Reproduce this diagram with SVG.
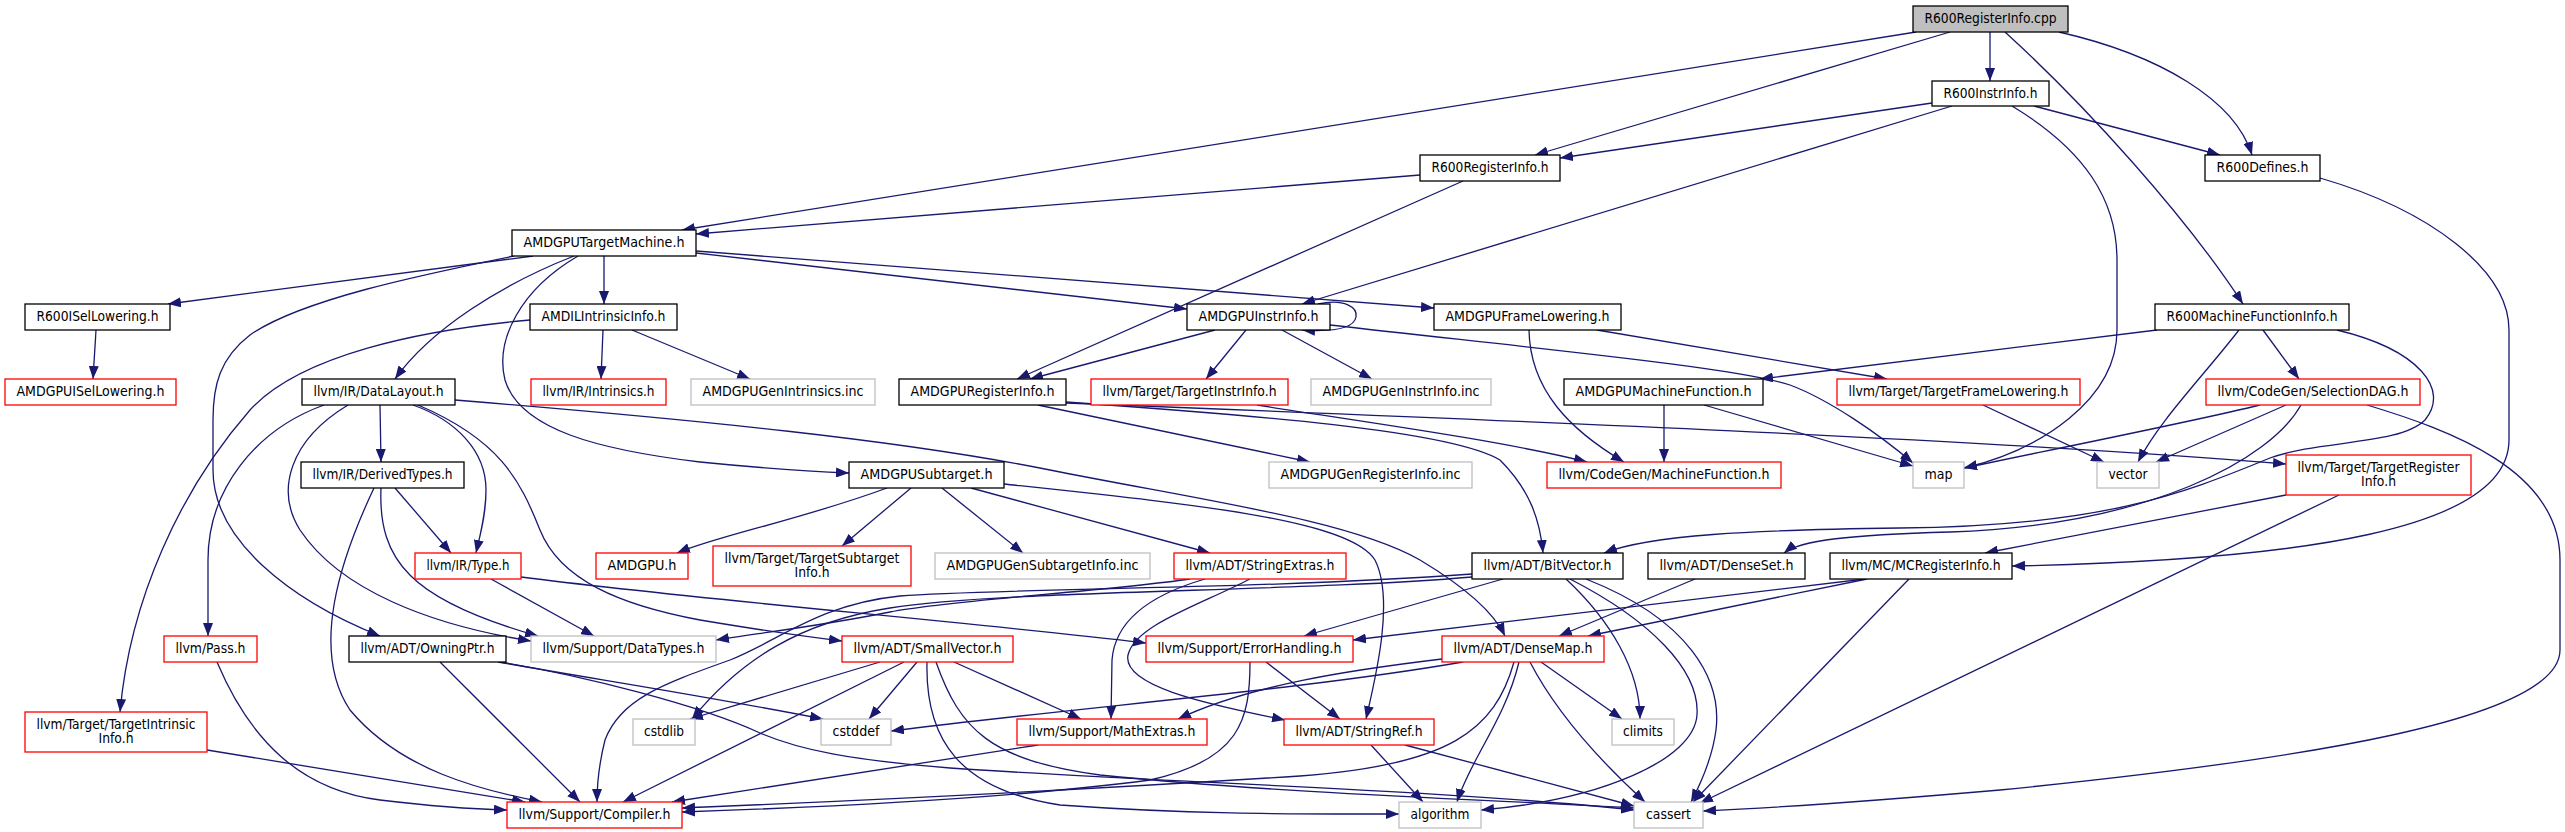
<svg xmlns="http://www.w3.org/2000/svg" width="2565" height="832" viewBox="0 0 2565 832">
<defs>
<marker id="ah" markerUnits="userSpaceOnUse" markerWidth="13" markerHeight="10" refX="13" refY="5" orient="auto" viewBox="0 0 13 10">
<path d="M0,0 L13,5 L0,10 z" fill="#191970"/>
</marker>
<style>
.nd rect{fill:#ffffff;stroke:#000000;stroke-width:1.3}
.nd.red rect{stroke:#ff0000}
.nd.gry rect{stroke:#bfbfbf}
.nd.root rect{fill:#bfbfbf}
.nd text{font-family:'DejaVu Sans','Liberation Sans',sans-serif;font-size:14px;text-anchor:middle;fill:#000000}
#edges path{fill:none;stroke:#191970;stroke-width:1.3;marker-end:url(#ah)}
</style>
</defs>
<rect x="0" y="0" width="2565" height="832" fill="#ffffff"/>
<g id="edges">
<path d="M1916,32 L682,230"/>
<path d="M1950,32 L1535,155"/>
<path d="M1990,32 L1990,81"/>
<path d="M2005,32 C2085,105 2185,215 2243,304"/>
<path d="M2059,32 C2160,55 2235,100 2252,155"/>
<path d="M1932,103 L1560,158"/>
<path d="M1952,106 L1302,304"/>
<path d="M2012,106 C2085,150 2117,200 2117,260 L2117,330 C2117,400 2040,450 1964,468"/>
<path d="M2034,106 L2220,155"/>
<path d="M1420,175 L696,234"/>
<path d="M1463,181 L1017,379"/>
<path d="M533,256 L168,304"/>
<path d="M514,256 C420,275 300,300 250,335 C220,358 213,385 213,420 L213,470 C213,540 290,600 380,636"/>
<path d="M574,256 C500,285 430,330 395,379"/>
<path d="M578,256 C520,290 495,340 505,380 C520,430 600,450 700,462 C760,468 800,471 849,473"/>
<path d="M604,256 L604,304"/>
<path d="M696,253 L1187,309"/>
<path d="M696,251 C1000,273 1300,298 1434,308"/>
<path d="M603,330 L601,379"/>
<path d="M632,330 L750,379"/>
<path d="M530,320 C420,330 300,355 250,410 C180,490 130,600 120,712"/>
<path d="M380,405 L381,462"/>
<path d="M324,405 C255,430 208,490 208,560 L208,636"/>
<path d="M348,405 C290,440 275,490 300,530 C340,590 430,625 531,641"/>
<path d="M413,405 C455,420 486,450 486,490 C486,515 480,535 476,553"/>
<path d="M418,405 C500,440 520,480 540,530 C560,580 620,605 700,620 C760,630 800,636 842,641"/>
<path d="M455,400 C700,420 900,440 1050,470 C1200,500 1350,520 1420,560 C1470,590 1495,615 1505,636"/>
<path d="M395,488 L451,553"/>
<path d="M381,488 C378,560 410,600 538,636"/>
<path d="M374,488 C340,560 310,650 350,710 C400,770 480,790 542,802"/>
<path d="M491,579 L594,636"/>
<path d="M521,577 C700,600 950,620 1146,643"/>
<path d="M217,662 C250,740 300,790 380,800 C430,806 470,809 507,810"/>
<path d="M207,750 L525,802"/>
<path d="M440,662 L580,802"/>
<path d="M498,662 C600,680 700,695 823,719"/>
<path d="M500,662 C580,675 700,705 760,733 C800,750 850,760 950,768 C1150,782 1450,790 1634,810"/>
<path d="M880,662 L690,719"/>
<path d="M904,662 L623,802"/>
<path d="M917,662 L869,719"/>
<path d="M954,662 L1081,719"/>
<path d="M927,662 C925,740 960,790 1060,805 C1200,815 1300,814 1399,814"/>
<path d="M936,662 C960,730 990,760 1100,775 C1300,795 1500,800 1634,808"/>
<path d="M1038,745 L672,802"/>
<path d="M1266,662 L1340,719"/>
<path d="M1250,662 C1250,720 1240,760 1150,780 C1000,800 800,808 682,812"/>
<path d="M1514,662 C1495,730 1450,765 1300,776 C1000,795 800,803 682,808"/>
<path d="M1442,659 C1350,670 1250,685 1178,719"/>
<path d="M1463,662 C1300,690 1100,705 891,731"/>
<path d="M1519,662 C1505,720 1470,760 1457,802"/>
<path d="M1530,662 C1560,720 1610,770 1645,802"/>
<path d="M1541,662 L1622,719"/>
<path d="M1371,745 L1423,802"/>
<path d="M1405,745 L1634,806"/>
<path d="M1503,579 L1304,636"/>
<path d="M1566,579 C1610,620 1640,670 1640,719"/>
<path d="M1570,579 C1650,620 1700,670 1697,715 C1694,760 1600,800 1481,810"/>
<path d="M1586,579 C1690,620 1722,680 1716,730 C1712,760 1700,785 1691,802"/>
<path d="M1472,577 C1300,592 1000,590 890,608 C800,622 740,660 692,719"/>
<path d="M1472,574 C1250,590 1000,588 900,596 C820,604 780,640 730,660 C660,685 620,700 605,740 C600,760 597,780 597,802"/>
<path d="M1205,579 C1150,595 1115,620 1112,660 L1111,719"/>
<path d="M1190,579 C1100,592 950,600 890,612 C820,626 760,633 716,640"/>
<path d="M1250,579 C1200,605 1135,625 1128,655 C1122,685 1200,703 1285,720"/>
<path d="M887,488 C800,520 720,535 677,553"/>
<path d="M911,488 L842,546"/>
<path d="M942,488 L1023,553"/>
<path d="M971,488 L1210,553"/>
<path d="M1004,484 C1200,505 1350,520 1375,560 C1395,600 1375,680 1366,719"/>
<path d="M1038,405 L1310,462"/>
<path d="M1066,402 C1250,415 1450,430 1500,460 C1530,490 1540,520 1543,553"/>
<path d="M1066,403 C1500,420 2000,440 2286,464"/>
<path d="M1257,405 C1350,420 1500,440 1587,462"/>
<path d="M1215,330 L1030,379"/>
<path d="M1246,330 L1206,379"/>
<path d="M1282,330 L1372,379"/>
<path d="M1330,325 C1550,350 1740,368 1790,385 C1830,400 1880,435 1913,463"/>
<path d="M1318,304 C1345,298 1358,308 1356,317 C1354,328 1335,332 1302,330"/>
<path d="M1529,330 C1530,390 1570,430 1624,462"/>
<path d="M1597,330 L1887,379"/>
<path d="M1664,405 L1664,462"/>
<path d="M1704,405 L1913,466"/>
<path d="M1983,405 L2104,462"/>
<path d="M2157,330 L1760,379"/>
<path d="M2263,330 L2299,379"/>
<path d="M2239,330 C2200,380 2160,420 2138,462"/>
<path d="M2337,330 C2420,350 2450,390 2425,420 C2400,445 2320,440 2270,458 C2180,495 2100,526 1900,528 C1750,530 1650,535 1604,553"/>
<path d="M2260,405 C2200,420 2050,450 1964,468"/>
<path d="M2286,405 L2156,462"/>
<path d="M2301,405 C2270,460 2150,525 1950,532 C1850,535 1800,540 1784,553"/>
<path d="M2367,405 C2450,430 2560,470 2560,560 L2560,650 C2560,720 2300,760 2000,790 C1850,803 1770,808 1703,811"/>
<path d="M2320,178 C2430,210 2509,270 2509,330 L2509,440 C2509,530 2300,560 2012,566"/>
<path d="M2286,495 L1985,553"/>
<path d="M2339,495 L1700,803"/>
<path d="M1865,579 L1353,640"/>
<path d="M1867,579 L1588,636"/>
<path d="M1909,579 L1693,802"/>
<path d="M1695,579 L1559,636"/>
<path d="M96,330 L93,379"/>
</g>
<g id="n_R600RegisterInfo_cpp" class="nd root"><rect x="1913" y="6" width="155" height="26"/><text x="1990.5" y="23" textLength="132" lengthAdjust="spacingAndGlyphs">R600RegisterInfo.cpp</text></g>
<g id="n_R600InstrInfo_h" class="nd"><rect x="1932" y="81" width="117" height="25"/><text x="1990.5" y="97.5" textLength="94" lengthAdjust="spacingAndGlyphs">R600InstrInfo.h</text></g>
<g id="n_R600Defines_h" class="nd"><rect x="2205" y="155" width="115" height="26"/><text x="2262.5" y="172" textLength="92" lengthAdjust="spacingAndGlyphs">R600Defines.h</text></g>
<g id="n_R600RegisterInfo_h" class="nd"><rect x="1420" y="155" width="140" height="26"/><text x="1490" y="172" textLength="117" lengthAdjust="spacingAndGlyphs">R600RegisterInfo.h</text></g>
<g id="n_AMDGPUTargetMachine_h" class="nd"><rect x="512" y="230" width="184" height="26"/><text x="604" y="247" textLength="161" lengthAdjust="spacingAndGlyphs">AMDGPUTargetMachine.h</text></g>
<g id="n_R600ISelLowering_h" class="nd"><rect x="25" y="304" width="145" height="26"/><text x="97.5" y="321" textLength="122" lengthAdjust="spacingAndGlyphs">R600ISelLowering.h</text></g>
<g id="n_AMDGPUISelLowering_h" class="nd red"><rect x="5" y="379" width="171" height="26"/><text x="90.5" y="396" textLength="148" lengthAdjust="spacingAndGlyphs">AMDGPUISelLowering.h</text></g>
<g id="n_AMDILIntrinsicInfo_h" class="nd"><rect x="530" y="304" width="147" height="26"/><text x="603.5" y="321" textLength="124" lengthAdjust="spacingAndGlyphs">AMDILIntrinsicInfo.h</text></g>
<g id="n_DataLayout_h" class="nd"><rect x="302" y="379" width="153" height="26"/><text x="378.5" y="396" textLength="130" lengthAdjust="spacingAndGlyphs">llvm/IR/DataLayout.h</text></g>
<g id="n_Intrinsics_h" class="nd red"><rect x="531" y="379" width="135" height="26"/><text x="598.5" y="396" textLength="112" lengthAdjust="spacingAndGlyphs">llvm/IR/Intrinsics.h</text></g>
<g id="n_AMDGPUGenIntrinsics_inc" class="nd gry"><rect x="691" y="379" width="184" height="26"/><text x="783" y="396" textLength="161" lengthAdjust="spacingAndGlyphs">AMDGPUGenIntrinsics.inc</text></g>
<g id="n_AMDGPURegisterInfo_h" class="nd"><rect x="899" y="379" width="167" height="26"/><text x="982.5" y="396" textLength="144" lengthAdjust="spacingAndGlyphs">AMDGPURegisterInfo.h</text></g>
<g id="n_TargetInstrInfo_h" class="nd red"><rect x="1091" y="379" width="197" height="26"/><text x="1189.5" y="396" textLength="174" lengthAdjust="spacingAndGlyphs">llvm/Target/TargetInstrInfo.h</text></g>
<g id="n_AMDGPUInstrInfo_h" class="nd"><rect x="1187" y="304" width="143" height="26"/><text x="1258.5" y="321" textLength="120" lengthAdjust="spacingAndGlyphs">AMDGPUInstrInfo.h</text></g>
<g id="n_AMDGPUGenInstrInfo_inc" class="nd gry"><rect x="1311" y="379" width="180" height="26"/><text x="1401" y="396" textLength="157" lengthAdjust="spacingAndGlyphs">AMDGPUGenInstrInfo.inc</text></g>
<g id="n_AMDGPUFrameLowering_h" class="nd"><rect x="1434" y="304" width="187" height="26"/><text x="1527.5" y="321" textLength="164" lengthAdjust="spacingAndGlyphs">AMDGPUFrameLowering.h</text></g>
<g id="n_AMDGPUMachineFunction_h" class="nd"><rect x="1564" y="379" width="199" height="26"/><text x="1663.5" y="396" textLength="176" lengthAdjust="spacingAndGlyphs">AMDGPUMachineFunction.h</text></g>
<g id="n_TargetFrameLowering_h" class="nd red"><rect x="1837" y="379" width="243" height="26"/><text x="1958.5" y="396" textLength="220" lengthAdjust="spacingAndGlyphs">llvm/Target/TargetFrameLowering.h</text></g>
<g id="n_R600MachineFunctionInfo_h" class="nd"><rect x="2155" y="304" width="194" height="26"/><text x="2252" y="321" textLength="171" lengthAdjust="spacingAndGlyphs">R600MachineFunctionInfo.h</text></g>
<g id="n_SelectionDAG_h" class="nd red"><rect x="2206" y="379" width="214" height="26"/><text x="2313" y="396" textLength="191" lengthAdjust="spacingAndGlyphs">llvm/CodeGen/SelectionDAG.h</text></g>
<g id="n_DerivedTypes_h" class="nd"><rect x="301" y="462" width="163" height="26"/><text x="382.5" y="479" textLength="140" lengthAdjust="spacingAndGlyphs">llvm/IR/DerivedTypes.h</text></g>
<g id="n_Type_h" class="nd red"><rect x="415" y="553" width="106" height="26"/><text x="468" y="570" textLength="83" lengthAdjust="spacingAndGlyphs">llvm/IR/Type.h</text></g>
<g id="n_AMDGPU_h" class="nd red"><rect x="596" y="553" width="92" height="26"/><text x="642" y="570" textLength="69" lengthAdjust="spacingAndGlyphs">AMDGPU.h</text></g>
<g id="n_Pass_h" class="nd red"><rect x="164" y="636" width="93" height="26"/><text x="210.5" y="653" textLength="70" lengthAdjust="spacingAndGlyphs">llvm/Pass.h</text></g>
<g id="n_OwningPtr_h" class="nd"><rect x="349" y="636" width="157" height="26"/><text x="427.5" y="653" textLength="134" lengthAdjust="spacingAndGlyphs">llvm/ADT/OwningPtr.h</text></g>
<g id="n_DataTypes_h" class="nd gry"><rect x="531" y="636" width="185" height="26"/><text x="623.5" y="653" textLength="162" lengthAdjust="spacingAndGlyphs">llvm/Support/DataTypes.h</text></g>
<g id="n_TargetIntrinsicInfo_h" class="nd red"><rect x="25" y="712" width="182" height="40"/><text x="116" y="729.3" textLength="159" lengthAdjust="spacingAndGlyphs">llvm/Target/TargetIntrinsic</text><text x="116" y="742.7" textLength="35" lengthAdjust="spacingAndGlyphs">Info.h</text></g>
<g id="n_cstdlib" class="nd gry"><rect x="633" y="719" width="62" height="26"/><text x="664" y="736" textLength="40" lengthAdjust="spacingAndGlyphs">cstdlib</text></g>
<g id="n_Compiler_h" class="nd red"><rect x="507" y="802" width="175" height="26"/><text x="594.5" y="819" textLength="152" lengthAdjust="spacingAndGlyphs">llvm/Support/Compiler.h</text></g>
<g id="n_AMDGPUSubtarget_h" class="nd"><rect x="849" y="462" width="155" height="26"/><text x="926.5" y="479" textLength="132" lengthAdjust="spacingAndGlyphs">AMDGPUSubtarget.h</text></g>
<g id="n_TargetSubtargetInfo_h" class="nd red"><rect x="713" y="546" width="198" height="40"/><text x="812" y="563.3" textLength="175" lengthAdjust="spacingAndGlyphs">llvm/Target/TargetSubtarget</text><text x="812" y="576.7" textLength="35" lengthAdjust="spacingAndGlyphs">Info.h</text></g>
<g id="n_AMDGPUGenSubtargetInfo_inc" class="nd gry"><rect x="935" y="553" width="215" height="26"/><text x="1042.5" y="570" textLength="192" lengthAdjust="spacingAndGlyphs">AMDGPUGenSubtargetInfo.inc</text></g>
<g id="n_StringExtras_h" class="nd red"><rect x="1174" y="553" width="172" height="26"/><text x="1260" y="570" textLength="149" lengthAdjust="spacingAndGlyphs">llvm/ADT/StringExtras.h</text></g>
<g id="n_SmallVector_h" class="nd red"><rect x="842" y="636" width="171" height="26"/><text x="927.5" y="653" textLength="148" lengthAdjust="spacingAndGlyphs">llvm/ADT/SmallVector.h</text></g>
<g id="n_ErrorHandling_h" class="nd red"><rect x="1146" y="636" width="207" height="26"/><text x="1249.5" y="653" textLength="184" lengthAdjust="spacingAndGlyphs">llvm/Support/ErrorHandling.h</text></g>
<g id="n_cstddef" class="nd gry"><rect x="821" y="719" width="70" height="26"/><text x="856" y="736" textLength="47" lengthAdjust="spacingAndGlyphs">cstddef</text></g>
<g id="n_MathExtras_h" class="nd red"><rect x="1017" y="719" width="190" height="26"/><text x="1112" y="736" textLength="167" lengthAdjust="spacingAndGlyphs">llvm/Support/MathExtras.h</text></g>
<g id="n_StringRef_h" class="nd red"><rect x="1284" y="719" width="150" height="26"/><text x="1359" y="736" textLength="127" lengthAdjust="spacingAndGlyphs">llvm/ADT/StringRef.h</text></g>
<g id="n_AMDGPUGenRegisterInfo_inc" class="nd gry"><rect x="1269" y="462" width="203" height="26"/><text x="1370.5" y="479" textLength="180" lengthAdjust="spacingAndGlyphs">AMDGPUGenRegisterInfo.inc</text></g>
<g id="n_MachineFunction_h" class="nd red"><rect x="1547" y="462" width="234" height="26"/><text x="1664" y="479" textLength="211" lengthAdjust="spacingAndGlyphs">llvm/CodeGen/MachineFunction.h</text></g>
<g id="n_map" class="nd gry"><rect x="1913" y="462" width="51" height="26"/><text x="1938.5" y="479" textLength="28" lengthAdjust="spacingAndGlyphs">map</text></g>
<g id="n_vector" class="nd gry"><rect x="2097" y="462" width="62" height="26"/><text x="2128" y="479" textLength="39" lengthAdjust="spacingAndGlyphs">vector</text></g>
<g id="n_TargetRegisterInfo_h" class="nd red"><rect x="2286" y="455" width="185" height="40"/><text x="2378.5" y="472.3" textLength="162" lengthAdjust="spacingAndGlyphs">llvm/Target/TargetRegister</text><text x="2378.5" y="485.7" textLength="35" lengthAdjust="spacingAndGlyphs">Info.h</text></g>
<g id="n_BitVector_h" class="nd"><rect x="1472" y="553" width="151" height="26"/><text x="1547.5" y="570" textLength="128" lengthAdjust="spacingAndGlyphs">llvm/ADT/BitVector.h</text></g>
<g id="n_DenseSet_h" class="nd"><rect x="1648" y="553" width="157" height="26"/><text x="1726.5" y="570" textLength="134" lengthAdjust="spacingAndGlyphs">llvm/ADT/DenseSet.h</text></g>
<g id="n_MCRegisterInfo_h" class="nd"><rect x="1830" y="553" width="182" height="26"/><text x="1921" y="570" textLength="159" lengthAdjust="spacingAndGlyphs">llvm/MC/MCRegisterInfo.h</text></g>
<g id="n_DenseMap_h" class="nd red"><rect x="1442" y="636" width="162" height="26"/><text x="1523" y="653" textLength="139" lengthAdjust="spacingAndGlyphs">llvm/ADT/DenseMap.h</text></g>
<g id="n_climits" class="nd gry"><rect x="1612" y="719" width="62" height="26"/><text x="1643" y="736" textLength="40" lengthAdjust="spacingAndGlyphs">climits</text></g>
<g id="n_algorithm" class="nd gry"><rect x="1399" y="802" width="82" height="26"/><text x="1440" y="819" textLength="59" lengthAdjust="spacingAndGlyphs">algorithm</text></g>
<g id="n_cassert" class="nd gry"><rect x="1634" y="802" width="69" height="26"/><text x="1668.5" y="819" textLength="45" lengthAdjust="spacingAndGlyphs">cassert</text></g>
</svg>
